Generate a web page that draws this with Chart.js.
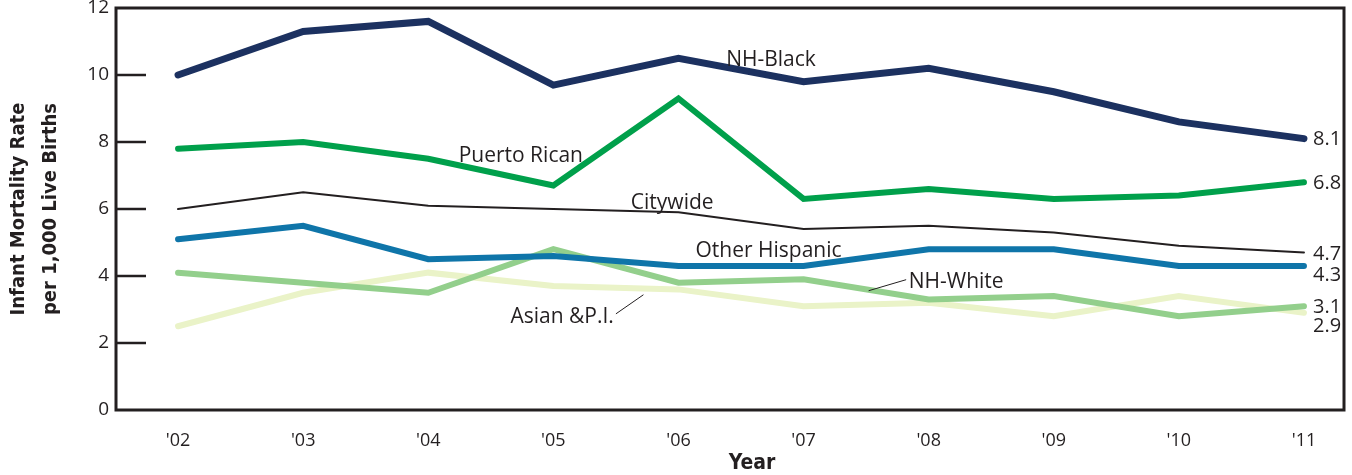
<!DOCTYPE html>
<html>
<head>
<meta charset="utf-8">
<script src="https://cdn.jsdelivr.net/npm/chart.js@4.4.1/dist/chart.umd.min.js"></script>
<style>
    html, body { margin: 0; padding: 0; background: #fff; }
    #wrap { position: relative; width: 1352px; height: 475px; }
</style>
</head>
<body>
<div id="wrap"><canvas id="chart"></canvas></div>
<script>
const years = ["'02", "'03", "'04", "'05", "'06", "'07", "'08", "'09", "'10", "'11"];
const nhBlack = [10.0, 11.3, 11.6, 9.7, 10.5, 9.8, 10.2, 9.5, 8.6, 8.1];
const puertoRican = [7.8, 8.0, 7.5, 6.7, 9.3, 6.3, 6.6, 6.3, 6.4, 6.8];
const citywide = [6.0, 6.5, 6.1, 6.0, 5.9, 5.4, 5.5, 5.3, 4.9, 4.7];
const otherHispanic = [5.1, 5.5, 4.5, 4.6, 4.3, 4.3, 4.8, 4.8, 4.3, 4.3];
const nhWhite = [4.1, 3.8, 3.5, 4.8, 3.8, 3.9, 3.3, 3.4, 2.8, 3.1];
const asianPI = [2.5, 3.5, 4.1, 3.7, 3.6, 3.1, 3.2, 2.8, 3.4, 2.9];
const yTicks = [0, 2, 4, 6, 8, 10, 12];

const textFont = "'Open Sans', 'DejaVu Sans', sans-serif";
const titleFont = "'Liberation Sans Narrow', 'DejaVu Sans Condensed', sans-serif";
const ink = '#231f20';

// series label placed in data coords; end label offset in px
const series = [
    { name: 'NH-Black', data: nhBlack, color: '#1c3160', width: 7, at: [4.74, 10.45], endDy: 1 },
    { name: 'Puerto Rican', data: puertoRican, color: '#00a04b', width: 6, at: [2.74, 7.57], endDy: 1 },
    { name: 'Citywide', data: citywide, color: ink, width: 2, at: [3.95, 6.17], endDy: 2 },
    { name: 'Other Hispanic', data: otherHispanic, color: '#0f75a9', width: 6, at: [4.72, 4.76], endDy: 9 },
    { name: 'NH-White', data: nhWhite, color: '#93cf8c', width: 6, at: [6.22, 3.83], endDy: 1,
      leader: [[5.52, 3.56], [5.82, 3.89]] },
    { name: 'Asian &P.I.', data: asianPI, color: '#eaf3c8', width: 6, at: [3.07, 2.78], endDy: 13,
      leader: [[3.5, 2.87], [3.72, 3.44]] }
];

const labelPlugin = {
    id: 'labels',
    afterDraw(chart) {
        const ctx = chart.ctx;
        const xs = chart.scales.x, ys = chart.scales.y;
        const area = chart.chartArea;
        ctx.save();

        // frame
        ctx.strokeStyle = ink;
        ctx.lineWidth = 3;
        ctx.strokeRect(area.left, area.top, area.right - area.left, area.bottom - area.top);

        // inward y ticks
        ctx.lineWidth = 2.5;
        yTicks.slice(1, -1).forEach(v => {
            const y = ys.getPixelForValue(v);
            ctx.beginPath();
            ctx.moveTo(area.left, y);
            ctx.lineTo(area.left + 30, y);
            ctx.stroke();
        });

        // series labels
        ctx.fillStyle = ink;
        ctx.textBaseline = 'middle';
        series.forEach(s => {
            ctx.font = '21px ' + textFont;
            ctx.textAlign = 'center';
            ctx.fillText(s.name, xs.getPixelForValue(s.at[0]), ys.getPixelForValue(s.at[1]));
            if (s.leader) {
                ctx.lineWidth = 1;
                ctx.beginPath();
                ctx.moveTo(xs.getPixelForValue(s.leader[0][0]), ys.getPixelForValue(s.leader[0][1]));
                ctx.lineTo(xs.getPixelForValue(s.leader[1][0]), ys.getPixelForValue(s.leader[1][1]));
                ctx.stroke();
            }
            const last = s.data.length - 1;
            ctx.font = '20px ' + textFont;
            ctx.textAlign = 'left';
            ctx.fillText(s.data[last].toFixed(1), xs.getPixelForValue(last) + 9,
                ys.getPixelForValue(s.data[last]) + s.endDy);
        });

        // x title
        ctx.font = 'bold 21px ' + titleFont;
        ctx.textAlign = 'center';
        ctx.fillText('Year', 752, 464);
        ctx.restore();
    }
};

new Chart(document.getElementById('chart'), {
    type: 'line',
    data: {
        datasets: series.map(s => ({
            label: s.name,
            data: s.data.map((v, i) => ({ x: i, y: v })),
            borderColor: s.color,
            borderWidth: s.width,
            borderCapStyle: 'round',
            borderJoinStyle: 'miter',
            pointRadius: 0,
            tension: 0
        }))
    },
    options: {
        responsive: true,
        maintainAspectRatio: false,
        animation: false,
        layout: { padding: { top: 8, right: 8, left: 0, bottom: 0 } },
        plugins: { legend: { display: false }, tooltip: { enabled: false } },
        scales: {
            x: {
                type: 'linear',
                min: -0.496,
                max: 9.32,
                afterBuildTicks: scale => { scale.ticks = years.map((_, i) => ({ value: i })); },
                afterFit: scale => {
                    scale.height = 65;
                    scale.paddingLeft = 0;
                    scale.paddingRight = 0;
                },
                grid: { display: false, drawTicks: false },
                border: { display: false },
                ticks: {
                    padding: 20,
                    color: ink,
                    font: { family: textFont, size: 18 },
                    callback: v => years[v]
                }
            },
            y: {
                min: 0,
                max: 12,
                afterBuildTicks: scale => { scale.ticks = yTicks.map(v => ({ value: v })); },
                afterFit: scale => {
                    scale.width = 116;
                    scale.paddingTop = 0;
                    scale.paddingBottom = 0;
                },
                grid: { display: false, drawTicks: false },
                border: { display: false },
                ticks: {
                    padding: 7,
                    color: ink,
                    font: { family: textFont, size: 19 }
                },
                title: {
                    display: true,
                    text: ['Infant Mortality Rate', 'per 1,000 Live Births'],
                    color: ink,
                    font: { family: titleFont, size: 20, weight: 'bold', lineHeight: 1.6 },
                    padding: { top: 3, bottom: 0 }
                }
            }
        }
    },
    plugins: [labelPlugin]
});
</script>
</body>
</html>
